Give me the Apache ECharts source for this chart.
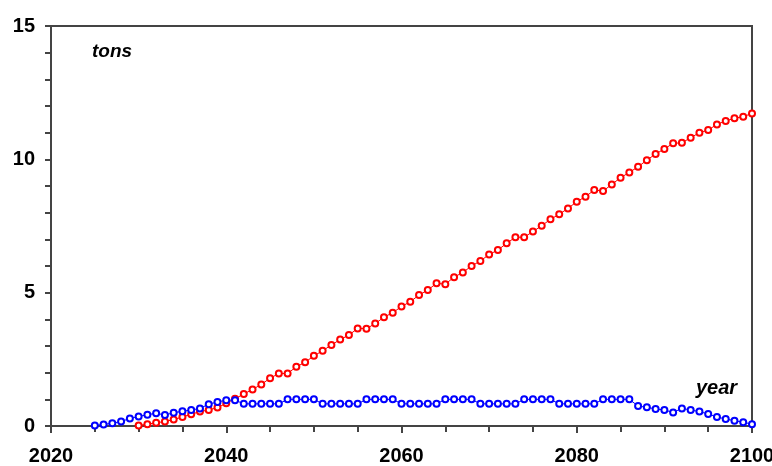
<!DOCTYPE html>
<html><head><meta charset="utf-8">
<script src="https://cdn.jsdelivr.net/npm/echarts@6/dist/echarts.min.js"></script>
<style>html,body{margin:0;padding:0;background:#fff}#c{width:772px;height:466px}</style>
</head><body><div id="c"></div>
<script>
const redYears = [2030,2031,2032,2033,2034,2035,2036,2037,2038,2039,2040,2041,2042,2043,2044,2045,2046,2047,2048,2049,2050,2051,2052,2053,2054,2055,2056,2057,2058,2059,2060,2061,2062,2063,2064,2065,2066,2067,2068,2069,2070,2071,2072,2073,2074,2075,2076,2077,2078,2079,2080,2081,2082,2083,2084,2085,2086,2087,2088,2089,2090,2091,2092,2093,2094,2095,2096,2097,2098,2099,2100];
const redValues = [0.02,0.07,0.12,0.17,0.24,0.34,0.44,0.54,0.60,0.69,0.85,1.02,1.20,1.37,1.56,1.79,1.97,1.97,2.22,2.39,2.63,2.82,3.04,3.24,3.41,3.66,3.65,3.84,4.08,4.25,4.48,4.66,4.91,5.10,5.35,5.32,5.58,5.76,6.00,6.19,6.43,6.60,6.85,7.08,7.08,7.29,7.51,7.75,7.94,8.16,8.41,8.60,8.85,8.81,9.06,9.31,9.51,9.72,9.97,10.20,10.39,10.60,10.62,10.81,11.00,11.10,11.31,11.44,11.54,11.60,11.72];

const blueYears = [2025,2026,2027,2028,2029,2030,2031,2032,2033,2034,2035,2036,2037,2038,2039,2040,2041,2042,2043,2044,2045,2046,2047,2048,2049,2050,2051,2052,2053,2054,2055,2056,2057,2058,2059,2060,2061,2062,2063,2064,2065,2066,2067,2068,2069,2070,2071,2072,2073,2074,2075,2076,2077,2078,2079,2080,2081,2082,2083,2084,2085,2086,2087,2088,2089,2090,2091,2092,2093,2094,2095,2096,2097,2098,2099,2100];
const blueValues = [0.02,0.06,0.10,0.17,0.28,0.36,0.42,0.48,0.41,0.50,0.55,0.60,0.66,0.82,0.90,0.97,0.97,0.83,0.83,0.83,0.83,0.83,1.00,1.00,1.00,1.00,0.83,0.83,0.83,0.83,0.83,1.00,1.00,1.00,1.00,0.83,0.83,0.83,0.83,0.83,1.00,1.00,1.00,1.00,0.83,0.83,0.83,0.83,0.83,1.00,1.00,1.00,1.00,0.83,0.83,0.83,0.83,0.83,1.00,1.00,1.00,1.00,0.75,0.70,0.64,0.60,0.51,0.66,0.60,0.54,0.45,0.34,0.26,0.20,0.14,0.07];

const xTicks = [2020, 2040, 2060, 2080, 2100];
const yTicks = [0, 5, 10, 15];

const pair = (xs, vs) => xs.map((x, i) => [x, vs[i]]);
const font = '"Liberation Sans", Arial, sans-serif';

const chart = echarts.init(document.getElementById('c'), null, {renderer: 'canvas'});
chart.setOption({
  animation: false,
  backgroundColor: '#fff',
  grid: {left: 51, right: 20, top: 26, bottom: 40, outerBoundsMode: 'none', containLabel: false,
         show: true, borderColor: '#444', borderWidth: 2, backgroundColor: 'transparent'},
  xAxis: {
    type: 'value', min: xTicks[0], max: xTicks[xTicks.length - 1], interval: 20,
    axisLine: {show: true, lineStyle: {color: '#444', width: 2}},
    axisTick: {show: true, length: 7, lineStyle: {color: '#444', width: 2}},
    minorTick: {show: true, splitNumber: 4, length: 6, lineStyle: {color: '#444', width: 2}},
    splitLine: {show: false},
    axisLabel: {color: '#000', fontFamily: font, fontWeight: 'bold', fontSize: 20, margin: 20,
                formatter: v => String(v), showMaxLabel: true}
  },
  yAxis: {
    type: 'value', min: yTicks[0], max: yTicks[yTicks.length - 1], interval: 5,
    axisLine: {show: true, lineStyle: {color: '#444', width: 2}},
    axisTick: {show: true, length: 6, lineStyle: {color: '#444', width: 2}},
    minorTick: {show: true, splitNumber: 5, length: 6, lineStyle: {color: '#444', width: 2}},
    splitLine: {show: false},
    axisLabel: {color: '#000', fontFamily: font, fontWeight: 'bold', fontSize: 20, margin: 16,
                formatter: v => String(v)}
  },
  graphic: [
    {type: 'text', left: 92, top: 42, style: {text: 'tons', fill: '#000', font: 'italic bold 19px ' + font}},
    {type: 'text', left: 696, top: 378, style: {text: 'year', fill: '#000', font: 'italic bold 20px ' + font}}
  ],
  series: [
    {type: 'line', data: pair(redYears, redValues), symbol: 'emptyCircle', symbolSize: 6,
     itemStyle: {color: '#ff0000', borderWidth: 1}, lineStyle: {color: '#ff0000', width: 1}, clip: false},
    {type: 'line', data: pair(blueYears, blueValues), symbol: 'emptyCircle', symbolSize: 6,
     itemStyle: {color: '#0000ff', borderWidth: 1}, lineStyle: {color: '#0000ff', width: 1}, clip: false}
  ]
});
</script></body></html>
